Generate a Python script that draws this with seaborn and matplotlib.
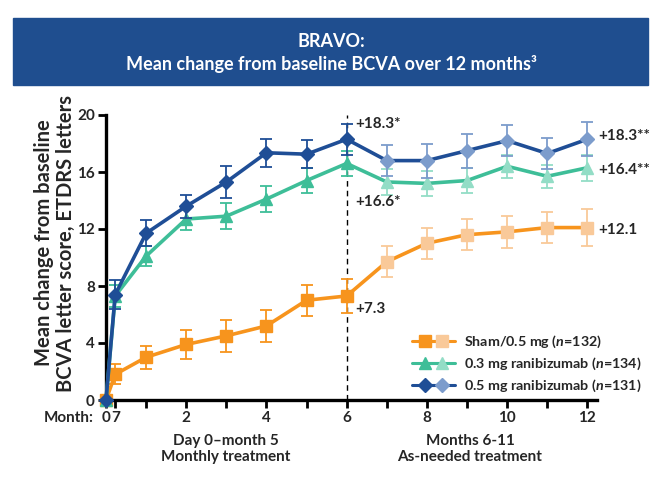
import numpy as np
import pandas as pd
import matplotlib.pyplot as plt
import seaborn as sns
from matplotlib.lines import Line2D
from matplotlib.patches import Rectangle
from matplotlib.legend_handler import HandlerTuple

# dati (mesi; il secondo punto e' il giorno 7)
mesi = [0, 0.23, 1, 2, 3, 4, 5, 6, 7, 8, 9, 10, 11, 12]
etichette_x = ["0", "7", "", "2", "", "4", "", "6", "", "8", "", "10", "", "12"]

sham = [0, 1.8, 3.0, 3.9, 4.5, 5.2, 7.0, 7.3, 9.7, 11.0, 11.6, 11.8, 12.1, 12.1]
sham_err = [0, 0.7, 0.8, 1.0, 1.1, 1.1, 1.1, 1.2, 1.1, 1.1, 1.1, 1.1, 1.1, 1.3]
rani03 = [0, 7.3, 10.1, 12.7, 12.9, 14.1, 15.4, 16.6, 15.3, 15.2, 15.4, 16.4, 15.7, 16.3]
rani03_err = [0, 0.8, 0.7, 0.8, 0.9, 0.9, 0.9, 0.9, 0.9, 0.9, 0.9, 0.8, 0.8, 0.9]
rani05 = [0, 7.4, 11.7, 13.6, 15.3, 17.35, 17.25, 18.3, 16.8, 16.8, 17.5, 18.2, 17.3, 18.3]
rani05_err = [0, 1.0, 0.9, 0.8, 1.1, 1.0, 1.0, 1.1, 1.1, 1.2, 1.2, 1.1, 1.1, 1.2]

gruppi = ["Sham/0.5 mg ($\\it{n}$=132)",
          "0.3 mg ranibizumab ($\\it{n}$=134)",
          "0.5 mg ranibizumab ($\\it{n}$=131)"]

sns.set_style("white")
plt.rcParams['font.family'] = ['Lato', 'DejaVu Sans']
plt.rcParams['font.weight'] = 'bold'
plt.rcParams['mathtext.fontset'] = 'custom'
plt.rcParams['mathtext.it'] = 'Lato:italic:bold'
plt.rcParams['mathtext.rm'] = 'Lato:bold'

fig = plt.figure(figsize=(6.62, 4.8), dpi=100)
ax = fig.add_axes([106 / 662, 80 / 480, 491 / 662, 285 / 480])

# banner del titolo
fig.patches.append(Rectangle((13 / 662, 395 / 480), 635 / 662, 67 / 480,
                             transform=fig.transFigure, color='#1F4E8F', zorder=0))
fig.text(0.5, 1 - 53 / 480, "BRAVO:\nMean change from baseline BCVA over 12 months³",
         ha='center', va='center', color='white', fontsize=13, fontweight='bold',
         linespacing=1.35)

# (valori, errori, marker, dimensione, colore scuro, colore chiaro, zorder)
serie = {
    'sham': (sham, sham_err, 's', 8.5, '#F7941D', '#F9C999', 2),
    'r03': (rani03, rani03_err, '^', 8.5, '#3EBE98', '#93DDC6', 3),
    'r05': (rani05, rani05_err, 'D', 7.5, '#1F4E96', '#7C9CCC', 4),
}

handles = []
for chiave in ['sham', 'r03', 'r05']:
    vals, err, mk, ms, scuro, chiaro, z = serie[chiave]
    sns.lineplot(x=mesi, y=vals, color=scuro, lw=2.6, ax=ax, zorder=z, clip_on=False)
    for sl, col in [(slice(0, 8), scuro), (slice(8, 14), chiaro)]:
        ax.errorbar(mesi[sl], vals[sl], yerr=err[sl], fmt='none', ecolor=col,
                    elinewidth=1.3, capsize=4, capthick=1.3, zorder=z, clip_on=False)
        ax.plot(mesi[sl], vals[sl], ls='none', marker=mk, ms=ms, color=col,
                zorder=z + 0.5, clip_on=False)
    h1 = Line2D([], [], color=scuro, lw=2.2, marker=mk, ms=ms, mfc=scuro, mec=scuro)
    h2 = Line2D([], [], color=scuro, lw=2.2, marker=mk, ms=ms, mfc=chiaro, mec=chiaro)
    handles.append((h1, h2))

ax.axvline(6, color='black', lw=1, ls=(0, (4, 3)), zorder=1)

# etichette dei valori
ax.text(6.22, 19.4, "+18.3*", fontsize=11, va='center')
ax.text(6.22, 13.9, "+16.6*", fontsize=11, va='center')
ax.text(6.22, 6.4, "+7.3", fontsize=11, va='center')
ax.text(12.28, 18.5, "+18.3**", fontsize=11, va='center')
ax.text(12.28, 16.15, "+16.4**", fontsize=11, va='center')
ax.text(12.28, 11.9, "+12.1", fontsize=11, va='center')

ax.set_xlim(0, 12.24)
ax.set_ylim(0, 20)
ax.set_yticks([0, 4, 8, 12, 16, 20])
ax.set_xticks(mesi)
ax.set_xticklabels(etichette_x)
ax.tick_params(axis='both', direction='out', length=6, width=2, labelsize=11,
               color='black', bottom=True, left=True, pad=2)
for t in ax.get_xticklabels() + ax.get_yticklabels():
    t.set_fontweight('bold')
sns.despine(ax=ax)
for s in ['left', 'bottom']:
    ax.spines[s].set_linewidth(2.4)
    ax.spines[s].set_color('black')
ax.set_xlabel("")
ax.set_ylabel("")

fig.text(55 / 662, 1 - 243 / 480, "Mean change from baseline\nBCVA letter score, ETDRS letters",
         rotation=90, ha='center', va='center', fontsize=14.5, fontweight='bold',
         linespacing=1.12)
fig.text(94 / 662, 1 - 418 / 480, "Month:", ha='right', va='center', fontsize=11,
         fontweight='bold')
fig.text(226 / 662, 1 - 449 / 480, "Day 0–month 5\nMonthly treatment", ha='center',
         va='center', fontsize=11, fontweight='bold', linespacing=1.25)
fig.text(470 / 662, 1 - 449 / 480, "Months 6-11\nAs-needed treatment", ha='center',
         va='center', fontsize=11, fontweight='bold', linespacing=1.25)

ax.legend(handles, gruppi, handler_map={tuple: HandlerTuple(ndivide=2, pad=-0.6)},
          loc='upper left', bbox_to_anchor=(405 / 662, 1 - 327 / 480),
          bbox_transform=fig.transFigure, frameon=False, fontsize=10.3,
          handlelength=3.0, handletextpad=0.6, labelspacing=0.4, borderpad=0)

fig.savefig("out.png", dpi=100)
